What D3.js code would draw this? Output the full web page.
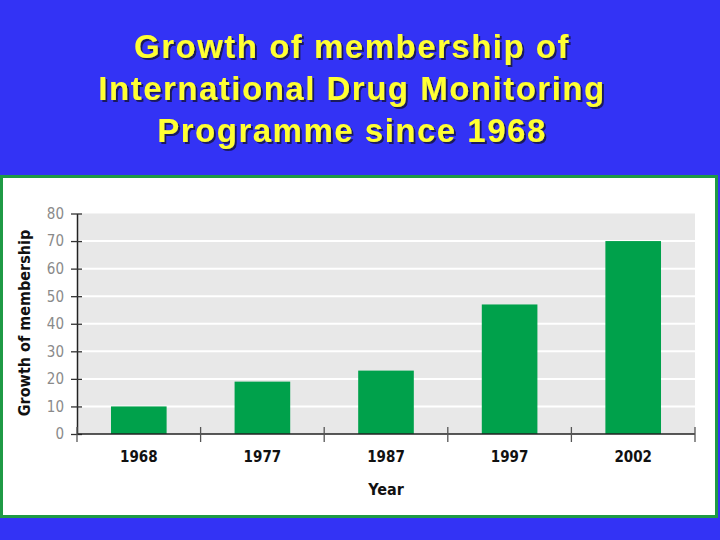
<!DOCTYPE html>
<html>
<head>
<meta charset="utf-8">
<script src="https://cdn.jsdelivr.net/npm/d3@7"></script>
<style>
  html, body { margin: 0; padding: 0; background: #3333f5; }
  svg { display: block; }
</style>
</head>
<body>
<div id="chart"></div>
<script>
const years = ["1968", "1977", "1987", "1997", "2002"];
const members = [10, 19, 23, 47, 70];
const yTicks = [0, 10, 20, 30, 40, 50, 60, 70, 80];
const titleLines = ["Growth of membership of", "International Drug Monitoring", "Programme since 1968"];

const W = 720, H = 540;
const plot = { left: 77, right: 695, top: 213.5, bottom: 434 };
const condensed = "'Liberation Sans Narrow', 'DejaVu Sans Condensed', 'Arial Narrow', sans-serif";

const svg = d3.select("#chart").append("svg")
  .attr("width", W)
  .attr("height", H);

// shadow for the title
svg.append("defs").append("filter")
  .attr("id", "shadow")
  .attr("x", "-5%").attr("y", "-20%").attr("width", "110%").attr("height", "150%")
  .append("feDropShadow")
  .attr("dx", 2).attr("dy", 2).attr("stdDeviation", 0.6)
  .attr("flood-color", "#141450").attr("flood-opacity", 0.9);

// blue slide background
svg.append("rect").attr("width", W).attr("height", H).attr("fill", "#3333f5");

// title
svg.append("g")
  .attr("font-family", "'Liberation Sans', Arial, sans-serif")
  .attr("font-weight", "bold")
  .attr("font-size", 33)
  .attr("letter-spacing", 1.5)
  .attr("text-anchor", "middle")
  .attr("fill", "#ffff33")
  .attr("filter", "url(#shadow)")
  .selectAll("text")
  .data(titleLines)
  .enter()
  .append("text")
  .attr("x", 352)
  .attr("y", (d, i) => 58 + i * 42)
  .text(d => d);

// white chart panel with green border
svg.append("rect")
  .attr("x", 1.5).attr("y", 176.5)
  .attr("width", 715).attr("height", 340)
  .attr("fill", "#ffffff")
  .attr("stroke", "#1f9a45")
  .attr("stroke-width", 3);

const x = d3.scaleBand()
  .domain(years)
  .range([plot.left, plot.right])
  .paddingInner(0.55)
  .paddingOuter(0.275);

const y = d3.scaleLinear()
  .domain([0, 80])
  .range([plot.bottom, plot.top]);

// grey plot background
svg.append("rect")
  .attr("x", plot.left).attr("y", plot.top)
  .attr("width", plot.right - plot.left).attr("height", plot.bottom - plot.top)
  .attr("fill", "#e8e8e8");

// white gridlines
svg.append("g")
  .selectAll("line")
  .data(yTicks.filter(d => d > 0 && d < 80))
  .enter()
  .append("line")
  .attr("x1", plot.left).attr("x2", plot.right)
  .attr("y1", d => y(d)).attr("y2", d => y(d))
  .attr("stroke", "#ffffff")
  .attr("stroke-width", 2);

// bars
svg.append("g")
  .selectAll("rect")
  .data(years)
  .enter()
  .append("rect")
  .attr("x", d => x(d))
  .attr("width", x.bandwidth())
  .attr("y", (d, i) => y(members[i]))
  .attr("height", (d, i) => y(0) - y(members[i]))
  .attr("fill", "#00a14b");

// y axis
const yAxis = d3.axisLeft(y)
  .tickValues(yTicks)
  .tickSizeInner(6)
  .tickSizeOuter(0)
  .tickPadding(7);
const yg = svg.append("g")
  .attr("transform", "translate(" + plot.left + ",0)")
  .call(yAxis);
yg.select("path.domain").attr("stroke", "#222").attr("stroke-width", 1.5);
yg.selectAll(".tick line").attr("x1", 5).attr("x2", -6).attr("stroke", "#333").attr("stroke-width", 1.3);
yg.selectAll(".tick text")
  .attr("font-family", condensed)
  .attr("font-size", 15)
  .attr("fill", "#8a8a8a");

// x axis: ticks at band boundaries
const step = x.step();
const boundaries = d3.range(years.length + 1).map(i => plot.left + i * step);
svg.append("line")
  .attr("x1", plot.left).attr("x2", plot.right)
  .attr("y1", plot.bottom).attr("y2", plot.bottom)
  .attr("stroke", "#222").attr("stroke-width", 1.5);
svg.append("g")
  .selectAll("line")
  .data(boundaries)
  .enter()
  .append("line")
  .attr("x1", d => d).attr("x2", d => d)
  .attr("y1", plot.bottom - 7).attr("y2", plot.bottom + 8)
  .attr("stroke", "#555").attr("stroke-width", 1.3);

svg.append("g")
  .selectAll("text")
  .data(years)
  .enter()
  .append("text")
  .attr("x", d => x(d) + x.bandwidth() / 2)
  .attr("y", 462)
  .attr("text-anchor", "middle")
  .attr("font-family", condensed)
  .attr("font-weight", "bold")
  .attr("font-size", 15)
  .attr("fill", "#111")
  .text(d => d);

// axis titles
svg.append("text")
  .attr("x", 386).attr("y", 495)
  .attr("text-anchor", "middle")
  .attr("font-family", condensed)
  .attr("font-weight", "bold")
  .attr("font-size", 16)
  .attr("fill", "#111")
  .text("Year");

svg.append("text")
  .attr("transform", "translate(30, 323) rotate(-90)")
  .attr("text-anchor", "middle")
  .attr("font-family", condensed)
  .attr("font-weight", "bold")
  .attr("font-size", 16)
  .attr("fill", "#111")
  .text("Growth of membership");
</script>
</body>
</html>
